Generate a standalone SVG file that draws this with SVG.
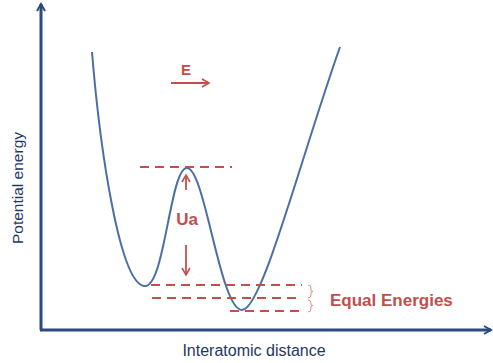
<svg xmlns="http://www.w3.org/2000/svg" width="493" height="363" viewBox="0 0 493 363">
<style>
.axis{stroke:#2b4a7d;stroke-width:3;fill:none}
.curve{stroke:#4a6ea5;stroke-width:2;fill:none}
.dash{stroke:#c0504d;stroke-width:1.8;stroke-dasharray:9,6;fill:none}
.red{stroke:#c0504d;stroke-width:1.8;fill:none}
.brace{stroke:#d9948f;stroke-width:1;fill:none}
.lbl{font-family:"Liberation Sans",Arial,sans-serif;fill:#1f3864}
.rlbl{font-family:"Liberation Sans",Arial,sans-serif;fill:#c0504d;font-weight:bold}
</style>
<defs>
<marker id="ah" markerWidth="10" markerHeight="10" refX="8" refY="5" orient="auto" markerUnits="userSpaceOnUse">
<path d="M1,1 L8,5 L1,9" fill="none" stroke="#2b4a7d" stroke-width="2"/>
</marker>
<marker id="rh" markerWidth="10" markerHeight="10" refX="8" refY="5" orient="auto" markerUnits="userSpaceOnUse">
<path d="M1,1 L8,5 L1,9" fill="none" stroke="#c0504d" stroke-width="1.6"/>
</marker>
</defs>
<rect width="493" height="363" fill="#fff"/>
<g id="axes">
<path class="axis" d="M41,330 L41,4" marker-end="url(#ah)"/>
<path class="axis" d="M40,330 L491,330" marker-end="url(#ah)"/>
</g>
<g id="curve">
<path class="curve" d="M92,52 C100,150 120,286 145,286 C165,286 170,168 187,168 C205,168 220,310 242,310 C262,310 300,160 340,47"/>
</g>
<g id="connectors">
<path class="dash" d="M140,167 L232,167"/>
<path class="dash" d="M151,285 L302,285"/>
<path class="dash" d="M152,298 L302,298"/>
<path class="dash" d="M230,311 L302,311"/>
<path class="red" d="M186,190 L186,175" marker-end="url(#rh)"/>
<path class="red" d="M186,245 L186,275" marker-end="url(#rh)"/>
<path class="red" d="M171,83 L209,83" marker-end="url(#rh)"/>
<path class="brace" d="M308,285 Q311,285 311,288 L311,290 Q311,291.5 313,291.5 Q311,291.5 311,293 L311,295 Q311,298 308,298"/>
<path class="brace" d="M308,300 Q311,300 311,303 L311,304 Q311,305.5 313,305.5 Q311,305.5 311,307 L311,309 Q311,312 308,312"/>
</g>
<g id="labels">
<text class="lbl" x="254" y="356" font-size="16" text-anchor="middle">Interatomic distance</text>
<text class="lbl" transform="translate(23,188) rotate(-90)" font-size="15.5" text-anchor="middle">Potential energy</text>
<text class="rlbl" x="330" y="306" font-size="17">Equal Energies</text>
<text class="rlbl" x="187" y="225" font-size="17" text-anchor="middle">Ua</text>
<text class="rlbl" x="186" y="75" font-size="15" text-anchor="middle">E</text>
</g>
</svg>
